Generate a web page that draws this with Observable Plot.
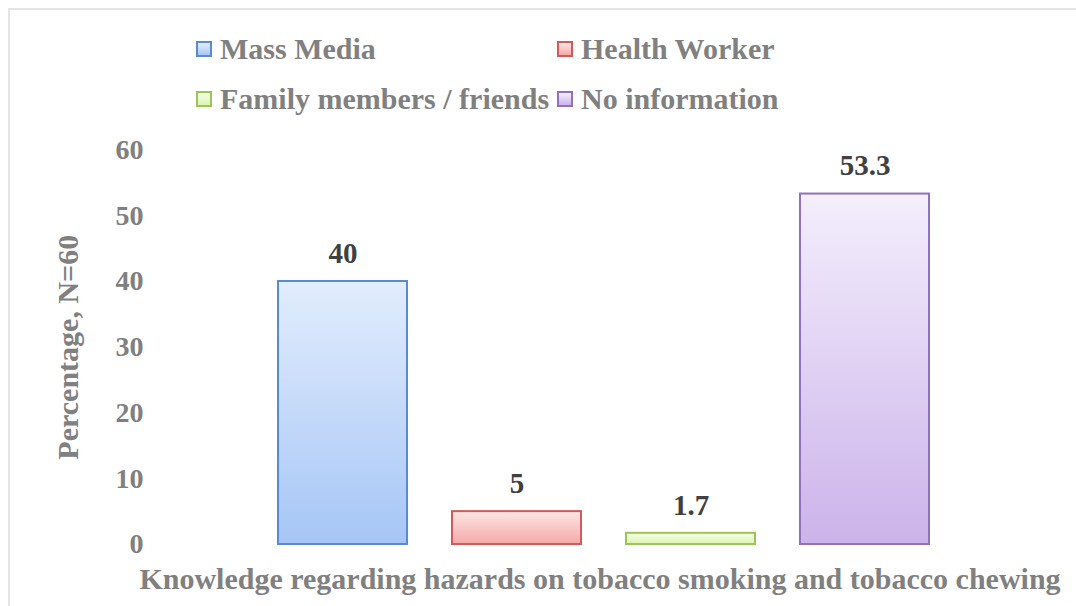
<!DOCTYPE html>
<html>
<head>
<meta charset="utf-8">
<script src="https://cdn.jsdelivr.net/npm/d3@7"></script>
<script src="https://cdn.jsdelivr.net/npm/@observablehq/plot@0.6"></script>
<style>
  html, body { margin: 0; padding: 0; background: #fff; }
  #wrap { position: relative; width: 1076px; height: 606px; overflow: hidden; }
  #frame { position: absolute; left: 8px; top: 8px; width: 1100px; height: 700px;
           border-top: 2px solid #e6e6e6; border-left: 2px solid #e6e6e6; box-sizing: border-box; }
  #legend { position: relative; height: 130px; font-family: "Liberation Serif", "Times New Roman", serif;
            font-weight: bold; font-size: 30px; color: #808080; }
  .item { position: absolute; display: flex; align-items: center; white-space: nowrap; }
  .sw { width: 12px; height: 12px; border: 2px solid; margin-right: 8px; }
  #chart { position: relative; }
</style>
</head>
<body>
<div id="wrap">
  <div id="frame"></div>
  <div id="legend"></div>
  <div id="chart"></div>
</div>
<script>
// Data
const categories = ["Mass Media", "Health Worker", "Family members / friends", "No information"];
const values = [40, 5, 1.7, 53.3];
const valueLabels = ["40", "5", "1.7", "53.3"];
const yTicks = [0, 10, 20, 30, 40, 50, 60];
const xTitle = "Knowledge regarding hazards on tobacco smoking and tobacco chewing";
const yTitle = "Percentage, N=60";

// Styles
const serif = "Liberation Serif, Times New Roman, serif";
const strokes = ["#5a8bd0", "#d35a5a", "#9cc45a", "#9170bd"];
const gradTop = ["#e2edfd", "#fde6e6", "#f5fde8", "#f4eefd"];
const gradBottom = ["#a6c6f6", "#f6a9a9", "#dcf5b0", "#ccb3ea"];
const legendPos = [[196, 50], [557, 50], [196, 100], [557, 100]];

// Legend (HTML)
const legend = document.getElementById("legend");
categories.forEach((c, i) => {
  const it = document.createElement("div");
  it.className = "item";
  it.style.left = legendPos[i][0] + "px";
  it.style.top = (legendPos[i][1] - 18) + "px";
  it.style.fontFamily = serif;
  const sw = document.createElement("div");
  sw.className = "sw";
  sw.style.borderColor = strokes[i];
  sw.style.background = `linear-gradient(${gradTop[i]}, ${gradBottom[i]})`;
  const tx = document.createElement("span");
  tx.textContent = c;
  it.appendChild(sw); it.appendChild(tx);
  legend.appendChild(it);
});

const data = categories.map((c, i) => ({category: c, value: values[i], label: valueLabels[i], idx: i}));

const defs = () => {
  const d = d3.create("svg:defs");
  categories.forEach((c, i) => {
    const g = d.append("linearGradient").attr("id", "grad" + i).attr("x1", 0).attr("y1", 0).attr("x2", 0).attr("y2", 1);
    g.append("stop").attr("offset", "0%").attr("stop-color", gradTop[i]);
    g.append("stop").attr("offset", "100%").attr("stop-color", gradBottom[i]);
  });
  return d.node();
};

const chart = Plot.plot({
  width: 1076,
  height: 476,
  marginTop: 19.5,
  marginBottom: 62,
  marginLeft: 160,
  marginRight: 29,
  style: {fontFamily: serif, background: "transparent", overflow: "visible"},
  x: {domain: categories, paddingInner: 45 / 175, paddingOuter: 0.663, axis: null},
  y: {domain: [0, 60], axis: null},
  color: {type: "identity"},
  marks: [
    defs,
    Plot.rectY(data, {
      x: "category", y: "value",
      fill: d => `url(#grad${d.idx})`,
      stroke: d => strokes[d.idx],
      strokeWidth: 2
    }),
    Plot.text(data, {
      x: "category", y: "value", text: "label",
      dy: -28, fill: "#404040", fontSize: 29, fontWeight: "bold"
    }),
    Plot.axisY(yTicks, {
      tickSize: 0, tickPadding: 17, fontSize: 28, fontWeight: "bold", fill: "#808080",
      label: null, tickFormat: d => String(d)
    }),
    Plot.text([yTitle], {
      frameAnchor: "left", textAnchor: "middle", dx: -92, rotate: -90,
      fontSize: 30, fontWeight: "bold", fill: "#808080"
    }),
    Plot.text([yTitle].map(() => xTitle), {
      frameAnchor: "bottom", dy: 44, dx: -4, fontSize: 30, fontWeight: "bold", fill: "#808080"
    })
  ]
});
document.getElementById("chart").appendChild(chart);
</script>
</body>
</html>
